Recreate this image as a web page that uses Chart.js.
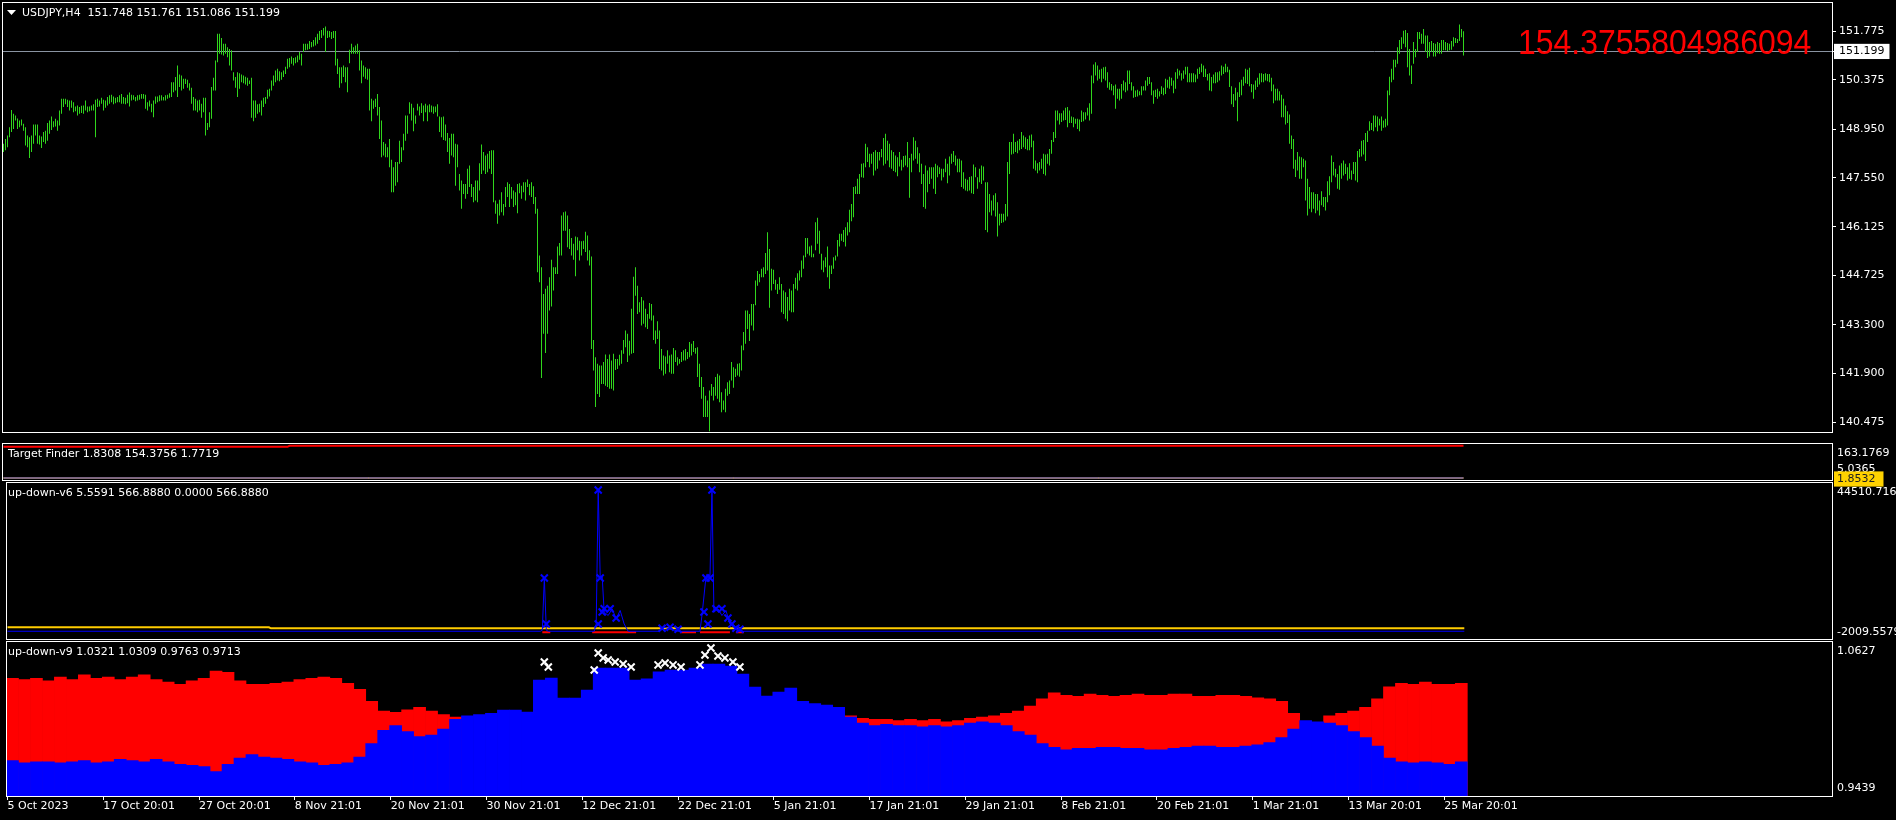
<!DOCTYPE html>
<html><head><meta charset="utf-8">
<script src="https://cdn.jsdelivr.net/npm/chart.js@4.4.1/dist/chart.umd.min.js"></script>
<style>
html,body{margin:0;padding:0;background:#000;width:1896px;height:820px;overflow:hidden}
canvas{position:absolute;left:0;top:0}
</style></head><body>
<canvas id="cMain" width="1896" height="820"></canvas>
<canvas id="cTF" width="1896" height="820"></canvas>
<canvas id="cV6" width="1896" height="820"></canvas>
<canvas id="cV9" width="1896" height="820"></canvas>
<script>
// ---------------- data ----------------
const symbolHeader = 'USDJPY,H4  151.748 151.761 151.086 151.199';
const bidPrice = 151.199;
const bigTargetText = '154.3755804986094';
const priceTicks = [140.475,141.900,143.300,144.725,146.125,147.550,148.950,150.375,151.775];
const dateLabels = ['5 Oct 2023','17 Oct 20:01','27 Oct 20:01','8 Nov 21:01','20 Nov 21:01','30 Nov 21:01','12 Dec 21:01','22 Dec 21:01','5 Jan 21:01','17 Jan 21:01','29 Jan 21:01','8 Feb 21:01','20 Feb 21:01','1 Mar 21:01','13 Mar 20:01','25 Mar 20:01'];
const dateTickBars = [0,48,96,144,192,240,288,336,384,432,480,528,576,624,672,720];

// H4 bar highs / lows (one entry per bar)
const priceHigh = [
148.53,148.67,148.77,149.01,149.51,149.40,149.35,149.26,149.20,149.23,
149.11,149.01,148.77,148.72,148.77,149.09,149.09,149.09,148.77,148.74,
148.87,148.91,149.13,149.20,149.32,149.18,149.25,149.20,149.49,149.83,
149.83,149.83,149.80,149.78,149.78,149.73,149.61,149.64,149.59,149.63,
149.64,149.78,149.61,149.61,149.64,149.67,149.80,149.83,149.78,149.86,
149.80,149.78,149.88,149.93,149.95,149.90,149.86,149.88,149.93,149.97,
149.88,149.86,149.95,150.01,149.95,149.93,149.88,149.93,149.95,149.97,
149.97,149.95,149.73,149.78,149.69,149.78,149.90,149.90,149.93,149.93,
149.88,149.93,149.95,149.99,150.31,150.31,150.46,150.79,150.53,150.50,
150.41,150.41,150.38,150.28,150.15,149.88,149.83,149.78,149.80,149.69,
149.86,149.86,149.13,149.44,150.17,150.44,150.94,151.71,151.71,151.59,
151.42,151.42,151.32,151.27,151.23,150.60,150.46,150.60,150.57,150.53,
150.50,150.47,150.44,150.36,150.44,149.78,149.78,149.67,149.69,149.78,
149.86,149.88,150.09,150.12,150.36,150.50,150.65,150.70,150.63,150.60,
150.65,150.76,150.99,151.01,151.05,151.01,151.03,151.08,151.18,151.13,
151.42,151.42,151.42,151.50,151.47,151.53,151.61,151.71,151.79,151.82,
151.88,151.92,151.80,151.79,151.76,151.79,151.79,150.99,150.74,150.74,
150.79,150.74,150.74,151.25,151.42,151.32,151.37,151.42,151.23,150.94,
150.79,150.74,150.70,150.70,149.83,149.78,149.83,149.97,149.59,149.20,
148.58,148.53,148.43,148.67,148.07,147.85,148.00,148.00,148.62,148.43,
148.82,149.35,149.35,149.73,149.69,149.57,149.35,149.69,149.61,149.70,
149.64,149.69,149.64,149.67,149.64,149.61,149.61,149.67,149.32,149.30,
149.32,149.09,148.84,148.70,148.82,148.82,148.53,148.51,147.66,147.47,
147.37,147.37,147.81,147.90,147.37,147.28,147.47,147.47,147.97,148.51,
148.29,148.19,148.24,148.32,148.34,148.34,146.89,146.80,146.91,
147.13,146.79,147.28,147.42,147.37,147.28,147.18,147.13,147.37,147.39,
147.32,147.42,147.42,147.50,147.37,147.42,147.30,146.99,146.65,145.30,
144.96,144.19,144.34,144.43,144.67,145.18,144.96,144.96,145.56,145.66,
146.46,146.55,146.57,146.46,146.07,145.81,145.64,145.85,145.83,145.73,
145.71,145.73,145.99,145.88,145.45,145.27,142.86,142.36,142.17,142.12,
142.12,142.22,142.44,142.31,142.44,142.27,142.46,142.31,142.31,142.43,
142.56,142.86,143.13,143.04,142.84,143.76,144.69,144.96,144.43,143.95,
144.10,144.00,143.76,143.61,143.93,143.90,143.57,143.13,143.40,143.13,
142.60,142.41,142.38,142.56,142.41,142.44,142.63,142.56,142.36,142.31,
142.51,142.56,142.60,142.51,142.80,142.75,142.83,142.63,142.65,142.17,
141.79,141.50,141.25,141.11,141.40,141.59,141.50,141.79,141.88,141.83,
141.35,141.11,141.45,141.64,141.69,142.22,142.07,142.03,142.17,142.19,
142.70,143.09,143.71,143.71,143.61,143.90,143.90,144.58,144.85,144.77,
144.92,144.96,145.37,145.97,145.49,144.92,144.89,144.60,144.48,144.67,
144.48,144.29,144.24,144.10,144.34,144.29,144.48,144.66,144.79,144.87,
145.16,145.30,145.81,145.81,145.56,145.59,145.35,146.26,146.39,146.02,
145.35,145.16,145.25,145.56,145.01,145.01,145.25,145.30,145.75,145.93,
145.93,146.04,146.12,146.26,146.62,146.79,147.28,147.30,147.52,147.66,
147.95,147.97,148.53,148.43,148.24,148.24,148.29,148.34,148.29,148.29,
148.38,148.70,148.82,148.62,148.53,148.34,148.29,148.19,148.14,148.29,
148.07,148.18,148.19,148.58,148.12,148.24,148.72,148.62,148.43,148.26,
147.95,147.66,147.90,147.76,147.85,147.85,147.85,147.95,147.90,147.85,
147.81,147.81,148.10,147.95,148.16,148.24,148.32,148.19,148.10,148.10,
148.05,147.71,147.52,147.49,147.57,
147.59,147.93,147.85,147.56,147.81,147.90,147.87,147.42,147.42,147.08,
146.89,147.04,147.10,146.84,146.51,146.51,146.51,146.79,148.00,148.58,
148.58,148.82,148.58,148.62,148.67,148.87,148.77,148.72,148.67,148.77,
148.80,148.62,148.05,147.97,148.00,148.10,148.24,148.22,148.24,148.38,
148.64,148.87,149.49,149.49,149.41,149.41,149.49,149.57,149.59,149.49,
149.32,149.30,149.25,149.25,149.23,149.49,149.44,149.44,149.57,149.70,
150.50,150.82,150.89,150.79,150.67,150.70,150.74,150.76,150.60,150.31,
150.26,150.21,150.24,150.12,150.12,150.26,150.36,150.31,150.65,150.65,
150.31,150.19,150.07,150.09,150.05,150.19,150.19,150.36,150.46,150.46,
150.31,150.07,150.09,150.12,150.05,150.19,150.15,150.41,150.38,150.47,
150.44,150.36,150.60,150.70,150.65,150.57,150.65,150.76,150.76,150.57,
150.57,150.57,150.53,150.70,150.74,150.84,150.79,150.70,150.55,150.57,
150.46,150.53,150.60,150.60,150.63,150.79,150.76,150.84,150.76,150.67,
150.19,149.97,150.15,150.02,150.31,150.38,150.47,150.70,150.67,150.73,
150.26,150.24,150.36,150.44,150.57,150.57,150.55,150.57,150.55,150.55,
150.44,150.24,150.12,150.12,150.05,149.95,149.83,149.64,149.47,149.38,
148.77,148.67,148.07,148.29,148.16,148.14,148.10,148.05,147.52,147.28,
147.13,147.13,147.08,147.08,146.89,147.16,146.99,146.99,147.45,147.59,
148.19,148.00,147.81,147.66,147.90,147.97,148.05,147.95,147.85,147.97,
147.76,148.00,148.00,148.32,148.38,148.62,148.64,148.84,148.91,149.18,
149.13,149.35,149.35,149.32,149.25,149.32,149.20,149.25,150.07,150.47,
150.70,150.96,150.96,151.32,151.53,151.61,151.80,151.82,151.73,151.27,
150.79,151.47,151.27,151.76,151.76,151.71,151.85,151.66,151.66,151.47,
151.50,151.44,151.42,151.47,151.44,151.53,151.53,151.47,151.44,151.42,
151.50,151.61,151.59,151.56,151.98,151.85,151.78];
const priceLow = [
148.29,148.34,148.43,148.72,148.87,148.96,149.20,148.96,149.01,149.06,
148.91,148.48,148.43,148.12,148.29,148.53,148.77,148.53,148.51,148.41,
148.58,148.53,148.62,148.82,148.93,149.01,149.03,148.91,149.06,149.40,
149.59,149.67,149.59,149.49,149.57,149.44,149.47,149.35,149.40,149.42,
149.40,149.49,149.44,149.47,149.49,149.49,148.72,149.59,149.61,149.69,
149.49,149.57,149.64,149.69,149.73,149.67,149.70,149.73,149.73,149.69,
149.69,149.67,149.70,149.61,149.78,149.80,149.76,149.78,149.80,149.83,
149.83,149.54,149.49,149.61,149.44,149.30,149.69,149.73,149.76,149.78,
149.78,149.78,149.83,149.86,149.88,150.02,150.07,149.88,150.17,150.07,
150.12,150.26,150.15,150.07,149.69,149.49,149.49,149.44,149.49,149.28,
149.44,148.77,148.93,149.01,149.25,150.07,150.07,150.89,151.13,151.11,
151.08,151.13,151.03,150.79,150.65,150.36,150.15,149.88,150.12,150.31,
150.28,150.24,150.21,150.26,149.28,149.18,149.28,149.40,149.44,149.35,
149.59,149.69,149.83,149.90,150.07,150.21,150.31,150.36,150.34,150.38,
150.46,150.55,150.70,150.74,150.84,150.79,150.86,150.89,150.96,150.79,
151.18,151.23,151.25,151.27,151.32,151.34,151.37,151.42,151.53,151.59,
151.66,151.18,151.59,151.61,151.56,151.59,150.79,150.55,150.15,150.28,
150.46,150.31,150.02,150.86,151.13,151.13,151.13,151.13,150.65,150.28,
150.47,150.41,150.38,149.49,149.18,149.54,149.59,149.35,148.67,148.14,
148.19,148.14,148.14,147.85,147.13,147.13,147.32,147.42,147.95,148.00,
148.34,148.62,148.82,149.40,149.20,148.89,149.11,149.49,149.35,149.42,
149.18,149.44,149.18,149.44,149.44,149.40,149.44,149.32,148.87,148.72,
148.64,148.62,148.29,147.95,148.19,148.14,147.32,147.85,147.18,146.65,
147.08,146.94,147.08,147.28,146.99,146.84,146.89,146.84,147.18,147.66,
147.76,147.66,147.71,147.81,147.66,146.84,146.51,146.22,146.46,
146.55,146.46,146.70,146.99,146.70,146.94,146.70,146.75,146.52,147.10,
146.94,147.13,146.89,147.28,147.04,146.99,146.79,146.51,144.82,144.53,
141.76,143.04,142.48,143.04,143.71,143.83,144.29,144.77,144.77,145.30,
145.30,146.02,146.02,145.54,145.49,145.30,145.18,144.70,145.45,145.16,
145.30,145.49,145.40,145.16,145.01,142.60,141.98,140.92,141.30,141.21,
141.59,141.59,141.54,141.50,141.45,141.45,141.40,141.99,142.02,142.12,
142.17,142.46,142.65,142.22,142.41,142.46,142.48,144.14,143.61,143.66,
143.28,143.33,143.23,143.18,143.47,143.42,142.86,142.75,142.89,142.02,
141.98,141.83,141.88,142.17,141.93,141.88,141.88,142.22,142.12,142.17,
142.22,142.27,142.27,142.31,142.36,142.41,142.51,142.46,141.79,141.50,
141.16,140.63,140.63,140.63,140.22,141.25,141.11,141.25,141.16,141.06,
140.77,140.84,140.77,141.25,141.30,141.69,141.48,141.79,141.83,141.80,
141.98,142.56,142.75,143.18,142.83,143.28,143.13,143.86,144.43,144.53,
144.67,144.67,144.77,144.87,143.79,144.29,144.48,144.31,144.19,144.31,
143.66,143.61,143.47,143.40,143.71,143.66,143.66,144.34,144.29,144.58,
144.67,144.92,145.25,145.35,145.30,145.25,145.25,145.45,145.64,145.35,
144.89,144.82,144.96,144.67,144.34,144.77,144.92,145.16,145.27,145.56,
145.73,145.69,145.56,145.88,145.97,146.29,146.41,147.08,147.08,147.08,
147.56,147.55,147.85,148.00,147.85,147.95,147.61,147.76,147.81,148.05,
148.14,147.90,147.95,148.05,147.85,147.81,147.74,147.71,147.59,147.87,
147.76,147.85,147.90,147.85,146.97,147.71,148.05,148.10,147.95,147.71,
147.37,146.70,146.65,147.13,147.37,147.52,147.23,147.08,147.56,147.66,
147.47,147.56,147.71,147.39,147.61,147.95,148.00,147.90,147.71,147.71,
147.28,147.23,147.18,147.16,147.18,
147.10,147.08,147.56,147.23,147.42,147.37,147.47,146.04,145.97,146.55,
146.46,146.60,146.43,145.85,146.17,146.24,146.26,146.31,146.43,147.66,
148.22,148.24,148.29,148.26,148.34,148.38,148.43,148.38,148.34,148.34,
148.43,147.81,147.76,147.68,147.76,147.81,147.66,147.61,147.95,147.90,
148.24,148.58,148.70,149.20,149.09,149.16,149.20,149.22,149.01,149.13,
149.13,149.01,149.11,148.96,148.89,149.16,149.18,149.23,149.35,149.20,
149.40,150.28,150.50,150.36,150.41,150.31,150.41,150.36,150.15,150.09,
150.07,149.93,149.54,149.83,149.78,149.83,150.07,150.02,150.07,150.26,
150.07,149.86,149.88,149.90,149.93,149.93,150.07,150.07,150.21,150.26,
149.93,149.69,149.88,149.83,149.90,149.97,149.93,149.97,150.15,150.12,
150.21,149.99,150.12,150.41,150.50,150.36,150.41,150.53,150.31,150.31,
150.31,150.31,150.31,150.41,150.55,150.60,150.46,150.46,150.36,150.07,
150.05,150.28,150.28,150.31,150.36,150.50,150.55,150.60,150.60,150.17,
149.67,149.59,149.78,149.18,149.88,149.93,150.21,150.28,150.26,150.19,
150.02,149.83,150.09,150.17,150.24,150.31,150.31,150.36,150.34,150.31,
150.05,149.70,149.78,149.78,149.78,149.30,149.30,149.09,149.13,148.53,
148.38,147.81,147.57,147.76,147.52,147.52,147.85,146.89,146.46,146.65,
146.55,146.65,146.52,146.60,146.46,146.75,146.70,146.60,146.84,147.04,
147.42,147.61,147.56,147.23,147.20,147.52,147.61,147.66,147.47,147.52,
147.49,147.66,147.47,147.42,148.14,148.16,148.22,148.03,148.58,148.91,
148.93,148.89,149.01,148.89,149.06,148.91,148.99,149.01,149.06,149.93,
150.31,150.38,150.74,150.84,151.13,151.27,151.42,151.32,150.74,150.50,
150.26,150.84,151.03,151.18,151.56,151.42,151.42,151.18,151.01,151.05,
151.18,151.05,151.05,151.15,151.13,151.13,151.23,151.23,151.21,151.23,
151.25,151.34,151.44,151.44,151.50,151.61,151.08];

// Target Finder panel
const tfHeader = 'Target Finder 1.8308 154.3756 1.7719';
const tfRedX = [0,142,143,730];
const tfRedY = [149.6,149.6,154.3756,154.3756];
const tfBlueX = [0,730];
const tfBlueY = [1.8308,1.8308];
const tfYellowX = [0,730];
const tfYellowY = [1.7719,1.7719];
const tfAxisLabels = ['163.1769','5.0365','1.8532'];

// up-down-v6 panel
const v6Header = 'up-down-v6 5.5591 566.8880 0.0000 566.8880';
const v6BlueX = [0,267,268,269,270,271,294,295,296,297,298,299,301,303,305,307,309,311,327,329,332,336,347,348,350,351,352,353,354,356,358,360,362,364,366,730];
const v6BlueY = [300,300,600,16181,600,300,300,2500,42422,16500,16500,6000,5000,7000,4000,6500,2500,300,300,1500,1000,300,300,5000,16500,16500,16500,42422,6000,7000,5000,6500,2500,1500,300,300];
const v6MarkX = [269,270,296,297,298,299,302,305,296,350,352,353,349,355,358,361,351,363,328,332,336,365,367];
const v6MarkY = [16181,2463,42422,16181,6042,7000,7000,4253,2463,16181,16181,42422,6042,7000,7000,4253,2463,2463,1200,1500,900,1200,900];
const v6RedX = [268,272,272.5,293,315,315.5,337,345,345.5,347,362,362.5,365,369];
const v6RedY = [0,0,null,0,0,null,0,0,null,0,0,null,0,0];
const v6YellowX = [0,131,132,730];
const v6YellowY = [1480,1480,1180,1180];
const v6AxisLabels = ['44510.716','-2009.5579'];

// up-down-v9 panel (one value per 6 bars)
const v9Header = 'up-down-v9 1.0321 1.0309 0.9763 0.9713';
const barsPerV9Group = 6;
const v9Blue = [0.9712,0.9694,0.9703,0.9703,0.9694,0.9703,0.9712,0.9694,0.9703,0.9722,
0.9712,0.9703,0.9722,0.9703,0.9684,0.9675,0.9666,0.9628,0.9684,0.9731,
0.9759,0.9740,0.9731,0.9722,0.9703,0.9694,0.9675,0.9684,0.9694,0.9740,
0.9843,0.9945,0.9983,0.9936,0.9898,0.9908,0.9955,1.0030,1.0058,1.0067,
1.0076,1.0102,1.0102,1.0087,1.0334,1.0349,1.0195,1.0195,1.0257,1.0426,
1.0426,1.0426,1.0334,1.0342,1.0396,1.0411,1.0411,1.0426,1.0457,1.0457,
1.0442,1.0380,1.0280,1.0210,1.0241,1.0272,1.0169,1.0151,1.0141,1.0123,
1.0048,1.0001,0.9983,0.9992,0.9983,0.9983,0.9973,0.9983,0.9973,0.9983,
1.0001,1.0011,1.0001,0.9983,0.9936,0.9908,0.9843,0.9815,0.9796,0.9806,
0.9806,0.9815,0.9815,0.9806,0.9806,0.9796,0.9796,0.9806,0.9815,0.9824,
0.9824,0.9815,0.9815,0.9824,0.9834,0.9852,0.9889,0.9955,1.0020,1.0011,
1.0001,0.9983,0.9936,0.9889,0.9824,0.9731,0.9703,0.9694,0.9703,0.9694,
0.9684,0.9703];
const v9Red = [1.0346,1.0337,1.0346,1.0328,1.0356,1.0337,1.0374,1.0346,1.0356,1.0337,
1.0356,1.0374,1.0337,1.0318,1.0300,1.0328,1.0346,1.0402,1.0393,1.0328,
1.0300,1.0300,1.0309,1.0318,1.0337,1.0346,1.0356,1.0346,1.0309,1.0262,
1.0169,1.0095,1.0085,1.0104,1.0123,1.0095,1.0067,1.0048,null,null,
null,null,null,null,null,null,null,null,null,null,
null,null,null,null,null,null,null,null,null,null,
null,null,null,null,null,null,null,null,null,null,
1.0058,1.0039,1.0030,1.0030,1.0020,1.0030,1.0020,1.0030,1.0011,1.0020,
1.0039,1.0048,1.0058,1.0076,1.0095,1.0132,1.0188,1.0235,1.0216,1.0207,
1.0225,1.0216,1.0207,1.0216,1.0225,1.0216,1.0216,1.0225,1.0225,1.0207,
1.0207,1.0216,1.0216,1.0207,1.0197,1.0188,1.0169,1.0076,null,null,
1.0058,1.0076,1.0095,1.0123,1.0188,1.0281,1.0309,1.0300,1.0318,1.0300,
1.0300,1.0309];
const v9MarkX = [269,271,294,296,298.5,301,304.5,308.5,312.5,326,329.5,333.5,337.5,347,349.5,352.5,356,359.5,363.5,367];
const v9MarkY = [1.0473,1.0434,1.0411,1.0542,1.0504,1.0488,1.0473,1.0457,1.0434,1.0450,1.0465,1.0450,1.0434,1.0450,1.0527,1.0581,1.0519,1.0504,1.0473,1.0434];
const v9AxisLabels = ['1.0627','0.9439'];

// ---------------- styling / helpers ----------------
Chart.defaults.font.family = 'DejaVu Sans';
Chart.defaults.font.size = 11;
Chart.defaults.color = '#ffffff';
const GREEN = 'rgb(48,214,28)';
const X_MIN = -0.25, X_MAX = 914.25;
const CANVAS_H = 820;
const AREAS = {main:[3,432], tf:[444,480], v6:[483,639], v9:[642,796]};

function zeroPad(s){ s.paddingTop=0; s.paddingBottom=0; s.paddingLeft=0; s.paddingRight=0; }
function baseOpts(area, withX){
  return {
    responsive:false, animation:false, devicePixelRatio:1, events:[],
    layout:{padding:{left:3, right:0, top:area[0], bottom: withX ? 0 : CANVAS_H-area[1]}},
    plugins:{legend:{display:false}, tooltip:{enabled:false}},
    elements:{point:{radius:0}, line:{tension:0}}
  };
}
function hiddenX(){ return {type:'linear', min:X_MIN, max:X_MAX, display:false, offset:false, grid:{offset:false}}; }
function pts(xs, ys){ return xs.map((x,i)=>({x:x, y:ys[i]})); }
function subAxis(min, max, area, offs, labels, extraTicks){
  const H = area[1]-area[0];
  return {
    type:'linear', position:'right', min:min, max:max, beginAtZero:false,
    afterBuildTicks: s => { s.ticks = offs.map(o => ({value: max - o/H*(max-min)})); },
    afterFit: s => { s.width = 64; zeroPad(s); },
    grid:{display:true, drawOnChartArea:false, drawTicks:false},
    border:{display:false},
    ticks:Object.assign({autoSkip:false, padding:5, color:'#fff', callback:(v,i)=>labels[i]}, extraTicks||{})
  };
}
const framePlugin = {
  id:'frame',
  afterDraw(chart, args, opts){
    const {ctx, chartArea:a} = chart;
    ctx.save();
    ctx.strokeStyle = '#ffffff'; ctx.lineWidth = 1;
    ctx.strokeRect(a.left-0.5, a.top-0.5, a.right-a.left+1, a.bottom-a.top+1);
    if (opts && opts.title){
      ctx.fillStyle = '#ffffff'; ctx.font = '11px "DejaVu Sans"'; ctx.textBaseline = 'middle'; ctx.textAlign='left';
      ctx.fillText(opts.title, opts.x, a.top + opts.dy);
    }
    ctx.restore();
  }
};

// ---------------- main price chart ----------------
const mainExtras = {
  id:'mainExtras',
  beforeDatasetsDraw(chart){
    const {ctx, chartArea:a, scales:{y}} = chart;
    const py = Math.round(y.getPixelForValue(bidPrice)) + 0.5;
    ctx.save(); ctx.strokeStyle = 'rgb(138,148,162)'; ctx.lineWidth = 1;
    ctx.beginPath(); ctx.moveTo(a.left-1, py); ctx.lineTo(a.right, py); ctx.stroke(); ctx.restore();
  },
  afterDraw(chart){
    const {ctx} = chart;
    ctx.save();
    ctx.fillStyle = '#ffffff';
    ctx.beginPath(); ctx.moveTo(7,10); ctx.lineTo(16,10); ctx.lineTo(11.5,15); ctx.closePath(); ctx.fill();
    ctx.font = '11px "DejaVu Sans"'; ctx.textBaseline = 'middle'; ctx.textAlign = 'left';
    ctx.fillText(symbolHeader, 22, 13);
    ctx.fillStyle = '#ff0000';
    ctx.font = '35px "Liberation Sans"'; ctx.textBaseline = 'alphabetic';
    ctx.translate(1518, 54); ctx.scale(0.913, 1);
    ctx.fillText(bigTargetText, 0, 0);
    ctx.restore();
  }
};
const mainTicks = priceTicks.concat([bidPrice]);
const mainOpts = baseOpts(AREAS.main, false);
mainOpts.scales = {
  x: hiddenX(),
  y: {
    type:'linear', position:'right', min:140.200, max:152.599, beginAtZero:false,
    afterBuildTicks: s => { s.ticks = mainTicks.map(v => ({value:v})); },
    afterFit: s => { s.width = 64; zeroPad(s); },
    grid:{display:true, drawOnChartArea:false, drawTicks:true, tickLength:4, color:'#ffffff'},
    border:{display:false},
    ticks:{
      autoSkip:false, padding:3,
      callback: v => Number(v).toFixed(3),
      color: c => (c.tick && c.tick.value === bidPrice) ? '#000000' : '#ffffff',
      showLabelBackdrop: c => !!(c.tick && c.tick.value === bidPrice),
      backdropColor:'#ffffff',
      backdropPadding:{left:5, right:5, top:1, bottom:1}
    }
  }
};
new Chart(document.getElementById('cMain'), {
  type:'bar',
  data:{datasets:[{
    data: priceHigh.map((h,k) => ({x: k, y:[priceLow[k], h]})),
    backgroundColor: GREEN, borderWidth:0, barThickness:1, inflateAmount:0
  }]},
  options: mainOpts,
  plugins:[framePlugin, mainExtras]
});

// ---------------- Target Finder ----------------
const tfOpts = baseOpts(AREAS.tf, false);
tfOpts.plugins.frame = {title: tfHeader, x:8, dy:10};
tfOpts.scales = {
  x: hiddenX(),
  y: subAxis(-7.69, 163.1769, AREAS.tf, [9,25,35], tfAxisLabels, {
    color: c => c.index === 2 ? '#202020' : '#ffffff',
    showLabelBackdrop: c => c.index === 2,
    backdropColor:'#ffd200',
    backdropPadding:{left:3, right:8, top:1, bottom:1}
  })
};
new Chart(document.getElementById('cTF'), {
  type:'line',
  data:{datasets:[
    {data: pts(tfBlueX, tfBlueY), borderColor:'#0000ff', borderWidth:1, pointRadius:0},
    {data: pts(tfYellowX, tfYellowY), borderColor:'#ffd200', borderWidth:2, pointRadius:0},
    {data: pts(tfRedX, tfRedY), borderColor:'#ff0000', borderWidth:2, pointRadius:0}
  ]},
  options: tfOpts,
  plugins:[framePlugin]
});

// ---------------- up-down-v6 ----------------
const v6Opts = baseOpts(AREAS.v6, false);
v6Opts.plugins.frame = {title: v6Header, x:8, dy:10};
v6Opts.scales = { x: hiddenX(), y: subAxis(-2009.5579, 44510.716, AREAS.v6, [9,149], v6AxisLabels) };
new Chart(document.getElementById('cV6'), {
  type:'line',
  data:{datasets:[
    {type:'scatter', data: pts(v6MarkX, v6MarkY), pointStyle:'crossRot', pointRadius:5, borderColor:'#0000ff', backgroundColor:'#0000ff', pointBorderWidth:2},
    {data: pts(v6BlueX, v6BlueY), borderColor:'#0000ff', borderWidth:1, pointRadius:0},
    {data: pts(v6RedX, v6RedY), borderColor:'#ff0000', borderWidth:2, pointRadius:0, spanGaps:false},
    {data: pts(v6YellowX, v6YellowY), borderColor:'#ffcc00', borderWidth:2, pointRadius:0}
  ]},
  options: v6Opts,
  plugins:[framePlugin]
});

// ---------------- up-down-v9 ----------------
const v9Opts = baseOpts(AREAS.v9, true);
v9Opts.plugins.frame = {title: v9Header, x:8, dy:10};
v9Opts.scales = {
  x: {
    type:'linear', min:X_MIN, max:X_MAX, position:'bottom', offset:false,
    afterBuildTicks: s => { s.ticks = dateTickBars.map(v => ({value:v})); },
    afterFit: s => { s.height = 24; zeroPad(s); },
    grid:{display:true, drawOnChartArea:false, drawTicks:true, tickLength:4, color:'#ffffff', offset:false},
    border:{display:false},
    ticks:{autoSkip:false, maxRotation:0, minRotation:0, align:'start', padding:0, color:'#ffffff', callback:(v,i)=>dateLabels[i]}
  },
  y: subAxis(0.9439, 1.0627, AREAS.v9, [9,146], v9AxisLabels)
};
const v9X = v9Blue.map((_,j) => j*barsPerV9Group + (barsPerV9Group-1)/2);
new Chart(document.getElementById('cV9'), {
  type:'bar',
  data:{datasets:[
    {type:'scatter', data: pts(v9MarkX, v9MarkY), pointStyle:'crossRot', pointRadius:5, borderColor:'#ffffff', backgroundColor:'#ffffff', pointBorderWidth:2},
    {data: pts(v9X, v9Blue), backgroundColor:'#0000ff', borderWidth:0, barThickness: barsPerV9Group*2, grouped:false},
    {data: pts(v9X, v9Red), backgroundColor:'#ff0000', borderWidth:0, barThickness: barsPerV9Group*2, grouped:false}
  ]},
  options: v9Opts,
  plugins:[framePlugin]
});
</script>
</body></html>
